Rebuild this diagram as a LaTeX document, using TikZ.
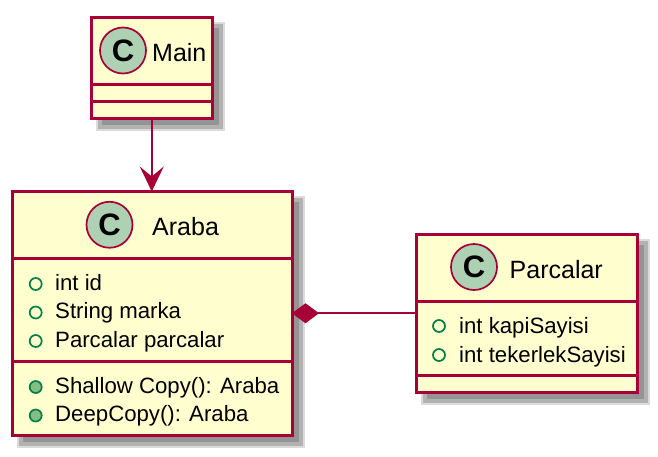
\documentclass[tikz,border=0pt]{standalone}
\usepackage{fontspec}
\setmainfont{Liberation Sans}
\usetikzlibrary{arrows.meta,shadows}
\definecolor{umlred}{HTML}{A80036}
\definecolor{umlfill}{HTML}{FEFECE}
\definecolor{umlspot}{HTML}{ADD1B2}
\definecolor{umlgreen}{HTML}{038048}
\definecolor{umlmethod}{HTML}{84BE84}

\begin{document}
\begin{tikzpicture}[
  x=1pt,y=-1pt,
  softshadow/.style={general shadow={shadow xshift=8.5pt,shadow yshift=-8.5pt,fill=none,draw=black!14,line width=8pt},
    general shadow={shadow xshift=8.5pt,shadow yshift=-8.5pt,fill=black!42,draw=black!30,line width=4pt}},
  classbox/.style={draw=umlred,line width=3pt,fill=umlfill,inner sep=0pt,outer sep=0pt,softshadow},
  divider/.style={draw=umlred,line width=3pt},
  spot/.style={circle,draw=umlred,line width=1.7pt,fill=umlspot,minimum size=46pt,inner sep=0pt,font=\fontsize{31}{31}\selectfont\bfseries},
  title/.style={anchor=base west,font=\fontsize{25}{25}\selectfont,inner sep=0pt},
  member/.style={anchor=base west,font=\fontsize{22.2}{24}\selectfont,inner sep=0pt},
  field/.style={circle,draw=umlgreen,line width=1.7pt,minimum size=12pt,inner sep=0pt},
  method/.style={field,fill=umlmethod}
]
  \useasboundingbox (0,0) rectangle (658,456);

  \node[classbox,minimum width=120.5pt,minimum height=100.5pt] (main) at (151.75,67.75) {};
  \node[classbox,minimum width=279.5pt,minimum height=243.5pt] (araba) at (152.25,313.25) {};
  \node[classbox,minimum width=221pt,minimum height=157.5pt] (parcalar) at (526.5,313.25) {};

  % compartments
  \draw[divider] (main.west |- 0,84.5) -- (main.east |- 0,84.5);
  \draw[divider] (main.west |- 0,101) -- (main.east |- 0,101);
  \draw[divider] (araba.west |- 0,258.5) -- (araba.east |- 0,258.5);
  \draw[divider] (araba.west |- 0,361) -- (araba.east |- 0,361);
  \draw[divider] (parcalar.west |- 0,301) -- (parcalar.east |- 0,301);
  \draw[divider] (parcalar.west |- 0,375) -- (parcalar.east |- 0,375);

  \node[spot] (mainspot) at (123,50.5) {C};
  \node[title] (maintitle) at (152,61.5) {Main};
  \node[spot] (arabaspot) at (109.5,224.75) {C};
  \node[title] (arabatitle) at (152,235.5) {Araba};
  \node[spot] (parcalarspot) at (474,267) {C};
  \node[title] (parcalartitle) at (509.5,278) {Parcalar};

  \node[field] (idmark) at (35.7,284) {};
  \node[member] (id) at (55,290) {int id};
  \node[field] (markamark) at (35.7,312.5) {};
  \node[member] (marka) at (55,318.5) {String marka};
  \node[field] (parcamark) at (35.7,341) {};
  \node[member] (parca) at (55,347) {Parcalar parcalar};
  \node[method] (shallowmark) at (35.7,387) {};
  \node[member] (shallow) at (55,393) {Shallow Copy(): Araba};
  \node[method] (deepmark) at (35.7,415.5) {};
  \node[member] (deep) at (55,421.5) {DeepCopy(): Araba};

  \node[field] (kapimark) at (439,326) {};
  \node[member] (kapi) at (459,333) {int kapiSayisi};
  \node[field] (tekermark) at (439,355) {};
  \node[member] (teker) at (459,362) {int tekerlekSayisi};

  \draw[umlred,line width=1.7pt,-{Stealth[length=25pt,width=24pt,inset=10pt]}] (main) -- (main |- araba.north);
  \draw[umlred,line width=1.7pt,{Diamond[length=27pt,width=20pt]}-] (araba) -- (parcalar);
\end{tikzpicture}
\end{document}
